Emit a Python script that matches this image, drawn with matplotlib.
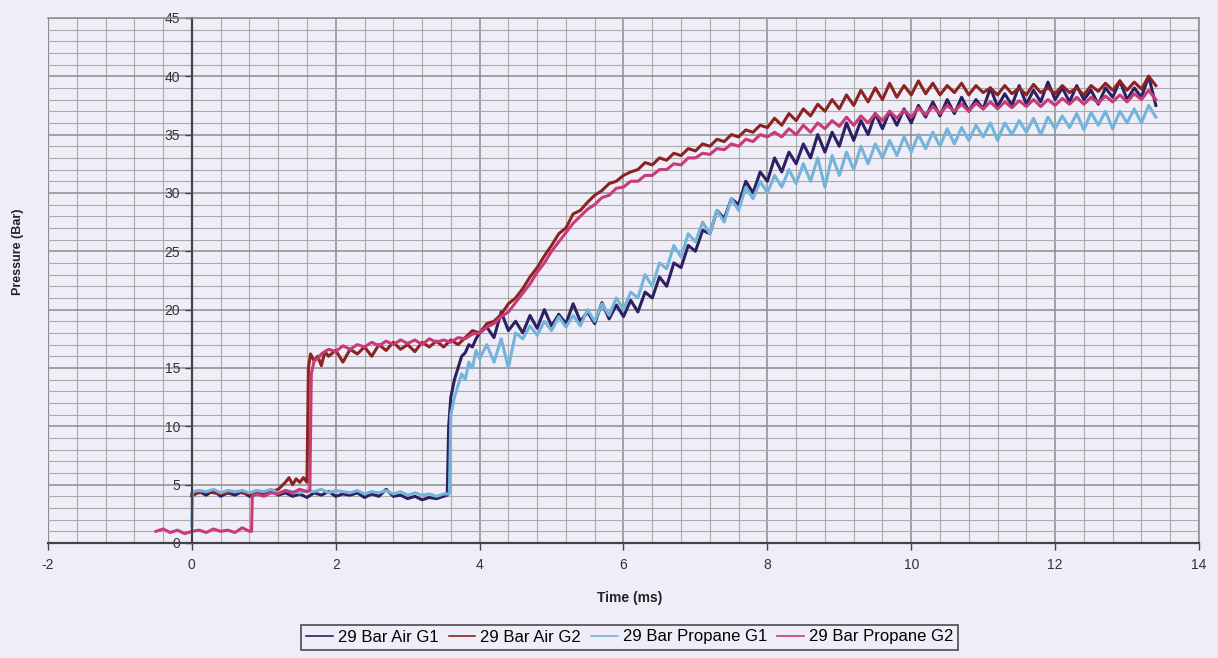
import matplotlib
matplotlib.use("Agg")
import matplotlib.pyplot as plt
from matplotlib.ticker import MultipleLocator

plt.rcParams['font.family'] = ['Liberation Sans', 'DejaVu Sans']
plt.rcParams['axes.unicode_minus'] = False

# ---- data (time in ms, pressure in bar) ----
t_air_g1 = [0.0, 0.1, 0.2, 0.3, 0.4, 0.5, 0.6, 0.7, 0.8, 0.9, 1.0, 1.1, 1.2, 1.3, 1.4, 1.5, 1.6, 1.7, 1.8, 1.9,
            2.0, 2.1, 2.2, 2.3, 2.4, 2.5, 2.6, 2.7, 2.8, 2.9, 3.0, 3.1, 3.2, 3.3, 3.4, 3.5,
            3.55, 3.57, 3.6, 3.65, 3.7, 3.75, 3.8, 3.85, 3.9, 3.95,
            4.0, 4.1, 4.2, 4.3, 4.4, 4.5, 4.6, 4.7, 4.8, 4.9, 5.0, 5.1, 5.2, 5.3, 5.4, 5.5, 5.6, 5.7, 5.8, 5.9,
            6.0, 6.1, 6.2, 6.3, 6.4, 6.5, 6.6, 6.7, 6.8, 6.9, 7.0, 7.1, 7.2, 7.3, 7.4, 7.5, 7.6, 7.7, 7.8, 7.9,
            8.0, 8.1, 8.2, 8.3, 8.4, 8.5, 8.6, 8.7, 8.8, 8.9, 9.0, 9.1, 9.2, 9.3, 9.4, 9.5, 9.6, 9.7, 9.8, 9.9,
            10.0, 10.1, 10.2, 10.3, 10.4, 10.5, 10.6, 10.7, 10.8, 10.9, 11.0, 11.1, 11.2, 11.3, 11.4, 11.5,
            11.6, 11.7, 11.8, 11.9, 12.0, 12.1, 12.2, 12.3, 12.4, 12.5, 12.6, 12.7, 12.8, 12.9, 13.0, 13.1,
            13.2, 13.3, 13.4]
p_air_g1 = [4.0, 4.4, 4.1, 4.5, 4.0, 4.3, 4.1, 4.4, 4.0, 4.3, 4.2, 4.5, 4.1, 4.3, 4.0, 4.2, 3.9, 4.3, 4.1, 4.4,
            4.0, 4.2, 4.1, 4.3, 3.9, 4.2, 4.0, 4.6, 4.0, 4.1, 3.8, 4.0, 3.7, 3.9, 3.8, 4.0,
            4.1, 10.0, 12.5, 14.0, 15.0, 16.0, 16.3, 17.0, 16.8, 17.5,
            18.0, 18.5, 17.6, 19.8, 18.2, 19.0, 18.0, 19.5, 18.4, 20.0, 18.6, 19.6, 18.8, 20.5, 19.0, 19.8,
            18.8, 20.6, 19.2, 20.4,
            19.4, 20.8, 19.8, 21.5, 21.0, 22.8, 22.0, 24.0, 23.6, 25.5, 25.0, 26.8, 26.5, 28.5, 27.8, 29.5,
            29.0, 31.0, 30.0, 31.8,
            31.0, 33.0, 31.8, 33.5, 32.5, 34.2, 33.0, 35.0, 33.5, 35.2, 34.0, 36.0, 34.5, 36.2, 35.0, 36.8,
            35.5, 37.0, 35.8, 37.2,
            36.0, 37.5, 36.5, 37.8, 36.6, 38.0, 36.8, 38.2, 37.0, 38.0, 37.2, 39.0, 37.4, 38.5, 37.5, 39.2,
            37.6, 38.8, 37.8, 39.5, 38.0, 39.0, 37.8, 39.2, 38.0, 38.8, 37.6, 39.0, 38.2, 39.6, 38.0, 39.0,
            38.2, 40.0, 37.5]

t_air_g2 = [0.0, 0.2, 0.4, 0.6, 0.8, 1.0, 1.1, 1.2, 1.3, 1.35, 1.4, 1.45, 1.5, 1.55, 1.6,
            1.62, 1.65, 1.7, 1.75, 1.8, 1.85, 1.9,
            2.0, 2.1, 2.2, 2.3, 2.4, 2.5, 2.6, 2.7, 2.8, 2.9, 3.0, 3.1, 3.2, 3.3, 3.4, 3.5, 3.6, 3.7, 3.8, 3.9,
            4.0, 4.1, 4.2, 4.3, 4.4, 4.5, 4.6, 4.7, 4.8, 4.9, 5.0, 5.1, 5.2, 5.3, 5.4, 5.5, 5.6, 5.7, 5.8, 5.9,
            6.0, 6.1, 6.2, 6.3, 6.4, 6.5, 6.6, 6.7, 6.8, 6.9, 7.0, 7.1, 7.2, 7.3, 7.4, 7.5, 7.6, 7.7, 7.8, 7.9,
            8.0, 8.1, 8.2, 8.3, 8.4, 8.5, 8.6, 8.7, 8.8, 8.9, 9.0, 9.1, 9.2, 9.3, 9.4, 9.5, 9.6, 9.7, 9.8, 9.9,
            10.0, 10.1, 10.2, 10.3, 10.4, 10.5, 10.6, 10.7, 10.8, 10.9, 11.0, 11.1, 11.2, 11.3, 11.4, 11.5,
            11.6, 11.7, 11.8, 11.9, 12.0, 12.1, 12.2, 12.3, 12.4, 12.5, 12.6, 12.7, 12.8, 12.9, 13.0, 13.1,
            13.2, 13.3, 13.4]
p_air_g2 = [4.2, 4.4, 4.2, 4.4, 4.2, 4.3, 4.4, 4.6, 5.2, 5.6, 5.0, 5.5, 5.2, 5.6, 5.2,
            15.0, 16.2, 15.6, 16.0, 15.2, 16.4, 16.0,
            16.5, 15.5, 16.6, 16.2, 16.8, 16.0, 17.0, 16.5, 17.2, 16.6, 17.0, 16.4, 17.2, 16.8, 17.3, 16.8,
            17.4, 17.0, 17.6, 18.2,
            18.0, 18.8, 19.0, 19.6, 20.5, 21.0, 21.8, 22.8, 23.6, 24.6, 25.5, 26.5, 27.0, 28.2, 28.5, 29.2,
            29.8, 30.2, 30.8, 31.0,
            31.5, 31.8, 32.0, 32.6, 32.4, 33.0, 32.8, 33.4, 33.2, 33.8, 33.6, 34.2, 34.0, 34.6, 34.4, 35.0,
            34.8, 35.4, 35.2, 35.8,
            35.6, 36.4, 35.8, 36.8, 36.2, 37.2, 36.6, 37.6, 37.0, 38.0, 37.2, 38.4, 37.5, 38.8, 37.8, 39.0,
            38.0, 39.4, 38.2, 39.2,
            38.4, 39.6, 38.5, 39.4, 38.4, 39.2, 38.6, 39.4, 38.4, 39.2, 38.6, 39.0, 38.4, 39.2, 38.5, 39.0,
            38.4, 39.3, 38.6, 39.0, 38.5, 39.2, 38.6, 39.0, 38.4, 39.2, 38.7, 39.4, 38.8, 39.6, 38.8, 39.5,
            38.9, 40.0, 39.2]

t_prop_g1 = [0.0, 0.01, 0.1, 0.2, 0.3, 0.4, 0.5, 0.6, 0.7, 0.8, 0.9, 1.0, 1.1, 1.2, 1.3, 1.4, 1.5, 1.6, 1.7,
             1.8, 1.9, 2.0, 2.1, 2.2, 2.3, 2.4, 2.5, 2.6, 2.7, 2.8, 2.9, 3.0, 3.1, 3.2, 3.3, 3.4, 3.5,
             3.58, 3.6, 3.65, 3.7, 3.75, 3.8, 3.85, 3.9, 3.95,
             4.0, 4.1, 4.2, 4.3, 4.4, 4.5, 4.6, 4.7, 4.8, 4.9, 5.0, 5.1, 5.2, 5.3, 5.4, 5.5, 5.6, 5.7, 5.8, 5.9,
             6.0, 6.1, 6.2, 6.3, 6.4, 6.5, 6.6, 6.7, 6.8, 6.9, 7.0, 7.1, 7.2, 7.3, 7.4, 7.5, 7.6, 7.7, 7.8, 7.9,
             8.0, 8.1, 8.2, 8.3, 8.4, 8.5, 8.6, 8.7, 8.8, 8.9, 9.0, 9.1, 9.2, 9.3, 9.4, 9.5, 9.6, 9.7, 9.8, 9.9,
             10.0, 10.1, 10.2, 10.3, 10.4, 10.5, 10.6, 10.7, 10.8, 10.9, 11.0, 11.1, 11.2, 11.3, 11.4, 11.5,
             11.6, 11.7, 11.8, 11.9, 12.0, 12.1, 12.2, 12.3, 12.4, 12.5, 12.6, 12.7, 12.8, 12.9, 13.0, 13.1,
             13.2, 13.3, 13.4]
p_prop_g1 = [1.4, 4.4, 4.5, 4.4, 4.6, 4.3, 4.5, 4.4, 4.5, 4.3, 4.5, 4.4, 4.6, 4.3, 4.5, 4.4, 4.3, 4.5, 4.4,
             4.6, 4.3, 4.5, 4.4, 4.3, 4.5, 4.2, 4.4, 4.3, 4.5, 4.2, 4.4, 4.1, 4.3, 4.1, 4.2, 4.0, 4.2,
             4.2, 11.0, 12.5, 13.5, 14.5, 14.0, 15.5, 15.0, 16.5,
             15.8, 17.0, 15.5, 17.5, 15.0, 18.0, 17.5, 18.6, 17.8, 19.0, 18.2, 19.4, 18.5, 19.5, 18.6, 20.0,
             19.0, 20.5, 19.5, 21.0,
             20.0, 21.5, 21.0, 23.0, 22.0, 24.0, 23.5, 25.5, 24.5, 26.5, 25.8, 27.5, 26.5, 28.5, 27.5, 29.5,
             28.5, 30.5, 29.5, 31.0,
             30.0, 31.5, 30.5, 32.0, 30.8, 32.5, 31.0, 33.0, 30.5, 33.2, 31.5, 33.5, 32.0, 34.0, 32.5, 34.2,
             33.0, 34.5, 33.2, 34.8,
             33.5, 35.0, 33.8, 35.2, 34.0, 35.5, 34.2, 35.6, 34.5, 35.8, 34.8, 36.0, 34.5, 36.0, 35.0, 36.2,
             35.2, 36.4, 35.0, 36.5, 35.5, 36.6, 35.6, 36.8, 35.4, 36.9, 35.8, 37.0, 35.5, 37.0, 36.0, 37.2,
             36.0, 37.5, 36.5]

t_prop_g2 = [-0.5, -0.4, -0.3, -0.2, -0.1, 0.0, 0.1, 0.2, 0.3, 0.4, 0.5, 0.6, 0.7, 0.8, 0.83,
             0.84, 0.9, 1.0, 1.1, 1.2, 1.3, 1.4, 1.5, 1.6, 1.64,
             1.66, 1.7, 1.75, 1.8, 1.9,
             2.0, 2.1, 2.2, 2.3, 2.4, 2.5, 2.6, 2.7, 2.8, 2.9, 3.0, 3.1, 3.2, 3.3, 3.4, 3.5, 3.6, 3.7, 3.8, 3.9,
             4.0, 4.1, 4.2, 4.3, 4.4, 4.5, 4.6, 4.7, 4.8, 4.9, 5.0, 5.1, 5.2, 5.3, 5.4, 5.5, 5.6, 5.7, 5.8, 5.9,
             6.0, 6.1, 6.2, 6.3, 6.4, 6.5, 6.6, 6.7, 6.8, 6.9, 7.0, 7.1, 7.2, 7.3, 7.4, 7.5, 7.6, 7.7, 7.8, 7.9,
             8.0, 8.1, 8.2, 8.3, 8.4, 8.5, 8.6, 8.7, 8.8, 8.9, 9.0, 9.1, 9.2, 9.3, 9.4, 9.5, 9.6, 9.7, 9.8, 9.9,
             10.0, 10.1, 10.2, 10.3, 10.4, 10.5, 10.6, 10.7, 10.8, 10.9, 11.0, 11.1, 11.2, 11.3, 11.4, 11.5,
             11.6, 11.7, 11.8, 11.9, 12.0, 12.1, 12.2, 12.3, 12.4, 12.5, 12.6, 12.7, 12.8, 12.9, 13.0, 13.1,
             13.2, 13.3, 13.4]
p_prop_g2 = [1.0, 1.2, 0.9, 1.1, 0.8, 1.0, 1.1, 0.9, 1.2, 1.0, 1.1, 0.9, 1.3, 1.0, 1.0,
             4.0, 4.2, 4.0, 4.3, 4.2, 4.5, 4.3, 4.6, 4.4, 4.5,
             14.5, 15.6, 15.8, 16.2, 16.6,
             16.4, 16.9, 16.6, 17.0, 16.8, 17.2, 16.9, 17.3, 17.0, 17.4, 17.1, 17.4, 17.0, 17.5, 17.2, 17.4,
             17.2, 17.6, 17.5, 17.9,
             18.0, 18.5, 18.8, 19.4, 19.8, 20.6, 21.4, 22.2, 23.2, 24.0, 25.0, 25.8, 26.6, 27.4, 28.0, 28.6,
             29.0, 29.6, 29.8, 30.4,
             30.5, 31.0, 31.0, 31.5, 31.5, 32.0, 32.0, 32.5, 32.4, 33.0, 33.0, 33.4, 33.3, 33.8, 33.7, 34.2,
             34.0, 34.6, 34.4, 35.0,
             34.8, 35.2, 34.8, 35.5, 35.0, 35.8, 35.2, 36.0, 35.5, 36.2, 35.7, 36.5, 35.8, 36.6, 36.0, 36.8,
             36.2, 37.0, 36.4, 37.1,
             36.5, 37.3, 36.7, 37.4, 36.8, 37.5, 37.0, 37.6, 37.0, 37.7, 37.2, 37.8, 37.2, 37.8, 37.3, 37.9,
             37.4, 38.0, 37.4, 38.0, 37.5, 38.1, 37.6, 38.2, 37.6, 38.2, 37.7, 38.3, 37.8, 38.4, 37.8, 38.5,
             38.0, 38.8, 38.0]

labels = ["29 Bar Air G1", "29 Bar Air G2", "29 Bar Propane G1", "29 Bar Propane G2"]
colors = ["#2e1f63", "#8c2323", "#74b4da", "#c83a78"]

bg = "#efeef8"
fig = plt.figure(figsize=(12.18, 6.58), dpi=100, facecolor=bg)
ax = fig.add_axes([0.0394, 0.1748, 0.945, 0.798], facecolor=bg)

series = [(t_air_g1, p_air_g1), (t_air_g2, p_air_g2), (t_prop_g1, p_prop_g1), (t_prop_g2, p_prop_g2)]
for (t, p), lab, c in zip(series, labels, colors):
    ax.plot(t, p, color=c, lw=2.2, label=lab, solid_joinstyle='round')

ax.set_xlim(-2, 14)
ax.set_ylim(0, 45)
ax.xaxis.set_major_locator(MultipleLocator(2))
ax.xaxis.set_minor_locator(MultipleLocator(0.4))
ax.yaxis.set_major_locator(MultipleLocator(5))
ax.yaxis.set_minor_locator(MultipleLocator(1))
ax.grid(which='major', color='#8c8c8c', lw=1.1)
ax.grid(which='minor', color='#aaaaaa', lw=0.8)
ax.set_axisbelow(True)

# axes cross at zero, like the original spreadsheet chart
ax.spines['left'].set_position(('data', 0))
ax.spines['left'].set_color('#444444')
ax.spines['left'].set_linewidth(1.6)
ax.spines['bottom'].set_color('#444444')
ax.spines['bottom'].set_linewidth(1.6)
for s in ['top', 'right']:
    ax.spines[s].set_color('#8c8c8c')
    ax.spines[s].set_linewidth(1.1)
ax.axvline(-2, color='#8c8c8c', lw=1.6, zorder=0.5)

ax.tick_params(which='minor', length=0)
ax.tick_params(which='major', length=5, width=1, color='#444444', labelcolor='#333333', labelsize=10)
ax.tick_params(axis='x', pad=6)

fig.text(0.0148, 1 - 252 / 658, "Pressure (Bar)", rotation=90, ha='center', va='center',
         fontsize=9, fontweight='bold', color='#222222')
fig.text(0.517, 1 - 598 / 658, "Time (ms)", ha='center', va='center',
         fontsize=10, fontweight='bold', color='#222222')

leg = fig.legend(loc='center', bbox_to_anchor=(0.517, 1 - 637 / 658), ncol=4, fontsize=12,
                 frameon=True, fancybox=False, edgecolor='#222222', facecolor=bg,
                 handlelength=1.6, handletextpad=0.3, columnspacing=0.6, borderpad=0.3)
leg.get_frame().set_linewidth(1.2)
for line in leg.get_lines():
    line.set_linewidth(1.2)

fig.savefig("out.png", dpi=100, facecolor=bg)
